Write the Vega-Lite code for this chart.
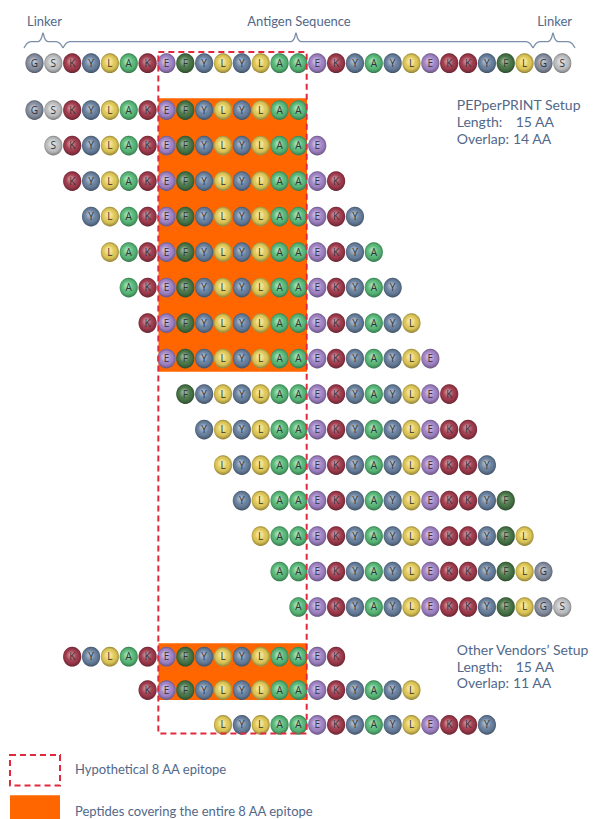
{
  "$schema": "https://vega.github.io/schema/vega-lite/v6.json",
  "width": 594,
  "height": 819,
  "autosize": {"type": "fit", "contains": "padding"},
  "padding": 0,
  "background": "white",
  "config": {"view": {"stroke": null}},
  "datasets": {
    "res": [
      {"x":0,"y":-0.32,"a":"G"},{"x":1,"y":-0.32,"a":"S"},{"x":2,"y":-0.32,"a":"K"},{"x":3,"y":-0.32,"a":"Y"},{"x":4,"y":-0.32,"a":"L"},{"x":5,"y":-0.32,"a":"A"},{"x":6,"y":-0.32,"a":"K"},{"x":7,"y":-0.32,"a":"E"},{"x":8,"y":-0.32,"a":"F"},{"x":9,"y":-0.32,"a":"Y"},{"x":10,"y":-0.32,"a":"L"},{"x":11,"y":-0.32,"a":"Y"},{"x":12,"y":-0.32,"a":"L"},{"x":13,"y":-0.32,"a":"A"},{"x":14,"y":-0.32,"a":"A"},{"x":15,"y":-0.32,"a":"E"},{"x":16,"y":-0.32,"a":"K"},{"x":17,"y":-0.32,"a":"Y"},{"x":18,"y":-0.32,"a":"A"},{"x":19,"y":-0.32,"a":"Y"},{"x":20,"y":-0.32,"a":"L"},{"x":21,"y":-0.32,"a":"E"},{"x":22,"y":-0.32,"a":"K"},{"x":23,"y":-0.32,"a":"K"},{"x":24,"y":-0.32,"a":"Y"},{"x":25,"y":-0.32,"a":"F"},{"x":26,"y":-0.32,"a":"L"},{"x":27,"y":-0.32,"a":"G"},{"x":28,"y":-0.32,"a":"S"},
      {"x":0,"y":1,"a":"G"},{"x":1,"y":1,"a":"S"},{"x":2,"y":1,"a":"K"},{"x":3,"y":1,"a":"Y"},{"x":4,"y":1,"a":"L"},{"x":5,"y":1,"a":"A"},{"x":6,"y":1,"a":"K"},{"x":7,"y":1,"a":"E"},{"x":8,"y":1,"a":"F"},{"x":9,"y":1,"a":"Y"},{"x":10,"y":1,"a":"L"},{"x":11,"y":1,"a":"Y"},{"x":12,"y":1,"a":"L"},{"x":13,"y":1,"a":"A"},{"x":14,"y":1,"a":"A"},
      {"x":1,"y":2,"a":"S"},{"x":2,"y":2,"a":"K"},{"x":3,"y":2,"a":"Y"},{"x":4,"y":2,"a":"L"},{"x":5,"y":2,"a":"A"},{"x":6,"y":2,"a":"K"},{"x":7,"y":2,"a":"E"},{"x":8,"y":2,"a":"F"},{"x":9,"y":2,"a":"Y"},{"x":10,"y":2,"a":"L"},{"x":11,"y":2,"a":"Y"},{"x":12,"y":2,"a":"L"},{"x":13,"y":2,"a":"A"},{"x":14,"y":2,"a":"A"},{"x":15,"y":2,"a":"E"},
      {"x":2,"y":3,"a":"K"},{"x":3,"y":3,"a":"Y"},{"x":4,"y":3,"a":"L"},{"x":5,"y":3,"a":"A"},{"x":6,"y":3,"a":"K"},{"x":7,"y":3,"a":"E"},{"x":8,"y":3,"a":"F"},{"x":9,"y":3,"a":"Y"},{"x":10,"y":3,"a":"L"},{"x":11,"y":3,"a":"Y"},{"x":12,"y":3,"a":"L"},{"x":13,"y":3,"a":"A"},{"x":14,"y":3,"a":"A"},{"x":15,"y":3,"a":"E"},{"x":16,"y":3,"a":"K"},
      {"x":3,"y":4,"a":"Y"},{"x":4,"y":4,"a":"L"},{"x":5,"y":4,"a":"A"},{"x":6,"y":4,"a":"K"},{"x":7,"y":4,"a":"E"},{"x":8,"y":4,"a":"F"},{"x":9,"y":4,"a":"Y"},{"x":10,"y":4,"a":"L"},{"x":11,"y":4,"a":"Y"},{"x":12,"y":4,"a":"L"},{"x":13,"y":4,"a":"A"},{"x":14,"y":4,"a":"A"},{"x":15,"y":4,"a":"E"},{"x":16,"y":4,"a":"K"},{"x":17,"y":4,"a":"Y"},
      {"x":4,"y":5,"a":"L"},{"x":5,"y":5,"a":"A"},{"x":6,"y":5,"a":"K"},{"x":7,"y":5,"a":"E"},{"x":8,"y":5,"a":"F"},{"x":9,"y":5,"a":"Y"},{"x":10,"y":5,"a":"L"},{"x":11,"y":5,"a":"Y"},{"x":12,"y":5,"a":"L"},{"x":13,"y":5,"a":"A"},{"x":14,"y":5,"a":"A"},{"x":15,"y":5,"a":"E"},{"x":16,"y":5,"a":"K"},{"x":17,"y":5,"a":"Y"},{"x":18,"y":5,"a":"A"},
      {"x":5,"y":6,"a":"A"},{"x":6,"y":6,"a":"K"},{"x":7,"y":6,"a":"E"},{"x":8,"y":6,"a":"F"},{"x":9,"y":6,"a":"Y"},{"x":10,"y":6,"a":"L"},{"x":11,"y":6,"a":"Y"},{"x":12,"y":6,"a":"L"},{"x":13,"y":6,"a":"A"},{"x":14,"y":6,"a":"A"},{"x":15,"y":6,"a":"E"},{"x":16,"y":6,"a":"K"},{"x":17,"y":6,"a":"Y"},{"x":18,"y":6,"a":"A"},{"x":19,"y":6,"a":"Y"},
      {"x":6,"y":7,"a":"K"},{"x":7,"y":7,"a":"E"},{"x":8,"y":7,"a":"F"},{"x":9,"y":7,"a":"Y"},{"x":10,"y":7,"a":"L"},{"x":11,"y":7,"a":"Y"},{"x":12,"y":7,"a":"L"},{"x":13,"y":7,"a":"A"},{"x":14,"y":7,"a":"A"},{"x":15,"y":7,"a":"E"},{"x":16,"y":7,"a":"K"},{"x":17,"y":7,"a":"Y"},{"x":18,"y":7,"a":"A"},{"x":19,"y":7,"a":"Y"},{"x":20,"y":7,"a":"L"},
      {"x":7,"y":8,"a":"E"},{"x":8,"y":8,"a":"F"},{"x":9,"y":8,"a":"Y"},{"x":10,"y":8,"a":"L"},{"x":11,"y":8,"a":"Y"},{"x":12,"y":8,"a":"L"},{"x":13,"y":8,"a":"A"},{"x":14,"y":8,"a":"A"},{"x":15,"y":8,"a":"E"},{"x":16,"y":8,"a":"K"},{"x":17,"y":8,"a":"Y"},{"x":18,"y":8,"a":"A"},{"x":19,"y":8,"a":"Y"},{"x":20,"y":8,"a":"L"},{"x":21,"y":8,"a":"E"},
      {"x":8,"y":9,"a":"F"},{"x":9,"y":9,"a":"Y"},{"x":10,"y":9,"a":"L"},{"x":11,"y":9,"a":"Y"},{"x":12,"y":9,"a":"L"},{"x":13,"y":9,"a":"A"},{"x":14,"y":9,"a":"A"},{"x":15,"y":9,"a":"E"},{"x":16,"y":9,"a":"K"},{"x":17,"y":9,"a":"Y"},{"x":18,"y":9,"a":"A"},{"x":19,"y":9,"a":"Y"},{"x":20,"y":9,"a":"L"},{"x":21,"y":9,"a":"E"},{"x":22,"y":9,"a":"K"},
      {"x":9,"y":10,"a":"Y"},{"x":10,"y":10,"a":"L"},{"x":11,"y":10,"a":"Y"},{"x":12,"y":10,"a":"L"},{"x":13,"y":10,"a":"A"},{"x":14,"y":10,"a":"A"},{"x":15,"y":10,"a":"E"},{"x":16,"y":10,"a":"K"},{"x":17,"y":10,"a":"Y"},{"x":18,"y":10,"a":"A"},{"x":19,"y":10,"a":"Y"},{"x":20,"y":10,"a":"L"},{"x":21,"y":10,"a":"E"},{"x":22,"y":10,"a":"K"},{"x":23,"y":10,"a":"K"},
      {"x":10,"y":11,"a":"L"},{"x":11,"y":11,"a":"Y"},{"x":12,"y":11,"a":"L"},{"x":13,"y":11,"a":"A"},{"x":14,"y":11,"a":"A"},{"x":15,"y":11,"a":"E"},{"x":16,"y":11,"a":"K"},{"x":17,"y":11,"a":"Y"},{"x":18,"y":11,"a":"A"},{"x":19,"y":11,"a":"Y"},{"x":20,"y":11,"a":"L"},{"x":21,"y":11,"a":"E"},{"x":22,"y":11,"a":"K"},{"x":23,"y":11,"a":"K"},{"x":24,"y":11,"a":"Y"},
      {"x":11,"y":12,"a":"Y"},{"x":12,"y":12,"a":"L"},{"x":13,"y":12,"a":"A"},{"x":14,"y":12,"a":"A"},{"x":15,"y":12,"a":"E"},{"x":16,"y":12,"a":"K"},{"x":17,"y":12,"a":"Y"},{"x":18,"y":12,"a":"A"},{"x":19,"y":12,"a":"Y"},{"x":20,"y":12,"a":"L"},{"x":21,"y":12,"a":"E"},{"x":22,"y":12,"a":"K"},{"x":23,"y":12,"a":"K"},{"x":24,"y":12,"a":"Y"},{"x":25,"y":12,"a":"F"},
      {"x":12,"y":13,"a":"L"},{"x":13,"y":13,"a":"A"},{"x":14,"y":13,"a":"A"},{"x":15,"y":13,"a":"E"},{"x":16,"y":13,"a":"K"},{"x":17,"y":13,"a":"Y"},{"x":18,"y":13,"a":"A"},{"x":19,"y":13,"a":"Y"},{"x":20,"y":13,"a":"L"},{"x":21,"y":13,"a":"E"},{"x":22,"y":13,"a":"K"},{"x":23,"y":13,"a":"K"},{"x":24,"y":13,"a":"Y"},{"x":25,"y":13,"a":"F"},{"x":26,"y":13,"a":"L"},
      {"x":13,"y":14,"a":"A"},{"x":14,"y":14,"a":"A"},{"x":15,"y":14,"a":"E"},{"x":16,"y":14,"a":"K"},{"x":17,"y":14,"a":"Y"},{"x":18,"y":14,"a":"A"},{"x":19,"y":14,"a":"Y"},{"x":20,"y":14,"a":"L"},{"x":21,"y":14,"a":"E"},{"x":22,"y":14,"a":"K"},{"x":23,"y":14,"a":"K"},{"x":24,"y":14,"a":"Y"},{"x":25,"y":14,"a":"F"},{"x":26,"y":14,"a":"L"},{"x":27,"y":14,"a":"G"},
      {"x":14,"y":15,"a":"A"},{"x":15,"y":15,"a":"E"},{"x":16,"y":15,"a":"K"},{"x":17,"y":15,"a":"Y"},{"x":18,"y":15,"a":"A"},{"x":19,"y":15,"a":"Y"},{"x":20,"y":15,"a":"L"},{"x":21,"y":15,"a":"E"},{"x":22,"y":15,"a":"K"},{"x":23,"y":15,"a":"K"},{"x":24,"y":15,"a":"Y"},{"x":25,"y":15,"a":"F"},{"x":26,"y":15,"a":"L"},{"x":27,"y":15,"a":"G"},{"x":28,"y":15,"a":"S"},
      {"x":2,"y":16.4,"a":"K"},{"x":3,"y":16.4,"a":"Y"},{"x":4,"y":16.4,"a":"L"},{"x":5,"y":16.4,"a":"A"},{"x":6,"y":16.4,"a":"K"},{"x":7,"y":16.4,"a":"E"},{"x":8,"y":16.4,"a":"F"},{"x":9,"y":16.4,"a":"Y"},{"x":10,"y":16.4,"a":"L"},{"x":11,"y":16.4,"a":"Y"},{"x":12,"y":16.4,"a":"L"},{"x":13,"y":16.4,"a":"A"},{"x":14,"y":16.4,"a":"A"},{"x":15,"y":16.4,"a":"E"},{"x":16,"y":16.4,"a":"K"},
      {"x":6,"y":17.34,"a":"K"},{"x":7,"y":17.34,"a":"E"},{"x":8,"y":17.34,"a":"F"},{"x":9,"y":17.34,"a":"Y"},{"x":10,"y":17.34,"a":"L"},{"x":11,"y":17.34,"a":"Y"},{"x":12,"y":17.34,"a":"L"},{"x":13,"y":17.34,"a":"A"},{"x":14,"y":17.34,"a":"A"},{"x":15,"y":17.34,"a":"E"},{"x":16,"y":17.34,"a":"K"},{"x":17,"y":17.34,"a":"Y"},{"x":18,"y":17.34,"a":"A"},{"x":19,"y":17.34,"a":"Y"},{"x":20,"y":17.34,"a":"L"},
      {"x":10,"y":18.32,"a":"L"},{"x":11,"y":18.32,"a":"Y"},{"x":12,"y":18.32,"a":"L"},{"x":13,"y":18.32,"a":"A"},{"x":14,"y":18.32,"a":"A"},{"x":15,"y":18.32,"a":"E"},{"x":16,"y":18.32,"a":"K"},{"x":17,"y":18.32,"a":"Y"},{"x":18,"y":18.32,"a":"A"},{"x":19,"y":18.32,"a":"Y"},{"x":20,"y":18.32,"a":"L"},{"x":21,"y":18.32,"a":"E"},{"x":22,"y":18.32,"a":"K"},{"x":23,"y":18.32,"a":"K"},{"x":24,"y":18.32,"a":"Y"}
    ],
    "braces": [
      {"b":"l","x":-0.557,"y":-0.746},{"b":"l","x":-0.398,"y":-0.873},{"b":"l","x":-0.186,"y":-0.924},{"b":"l","x":0.186,"y":-0.924},{"b":"l","x":0.371,"y":-1.028},{"b":"l","x":0.451,"y":-1.169},{"b":"l","x":0.531,"y":-1.028},{"b":"l","x":0.716,"y":-0.924},{"b":"l","x":1.141,"y":-0.924},{"b":"l","x":1.353,"y":-0.873},{"b":"l","x":1.512,"y":-0.746},
      {"b":"a","x":1.512,"y":-0.746},{"b":"a","x":1.671,"y":-0.873},{"b":"a","x":1.883,"y":-0.924},{"b":"a","x":13.607,"y":-0.924},{"b":"a","x":13.793,"y":-1.028},{"b":"a","x":13.873,"y":-1.169},{"b":"a","x":13.952,"y":-1.028},{"b":"a","x":14.138,"y":-0.924},{"b":"a","x":26.074,"y":-0.924},{"b":"a","x":26.286,"y":-0.873},{"b":"a","x":26.446,"y":-0.746},
      {"b":"r","x":26.446,"y":-0.746},{"b":"r","x":26.605,"y":-0.873},{"b":"r","x":26.817,"y":-0.924},{"b":"r","x":27.241,"y":-0.924},{"b":"r","x":27.427,"y":-1.028},{"b":"r","x":27.507,"y":-1.169},{"b":"r","x":27.586,"y":-1.028},{"b":"r","x":27.772,"y":-0.924},{"b":"r","x":28.302,"y":-0.924},{"b":"r","x":28.515,"y":-0.873},{"b":"r","x":28.674,"y":-0.746}
    ],
    "fills": [
      {"x":6.578,"x2":14.456,"y":0.669,"y2":8.37},
      {"x":6.578,"x2":14.456,"y":16.02,"y2":17.62},
      {"x":-1.3,"x2":1.353,"y":20.3,"y2":20.972}
    ],
    "dashed": [
      {"x":6.57,"x2":14.44,"y":-0.634,"y2":18.56},
      {"x":-1.3,"x2":1.353,"y":19.17,"y2":20.03}
    ],
    "heads": [
      {"x":0.53,"y":-1.487,"t":"Linker"},
      {"x":14.03,"y":-1.487,"t":"Antigen Sequence"},
      {"x":27.59,"y":-1.487,"t":"Linker"}
    ],
    "notes": [
      {"x":22.4,"y":0.887,"t":"PEPperPRINT Setup"},
      {"x":22.4,"y":1.366,"t":"Length:"},
      {"x":25.53,"y":1.366,"t":"15 AA"},
      {"x":22.4,"y":1.845,"t":"Overlap:"},
      {"x":25.38,"y":1.845,"t":"14 AA"},
      {"x":22.4,"y":16.24,"t":"Other Vendors’ Setup"},
      {"x":22.4,"y":16.73,"t":"Length:"},
      {"x":25.53,"y":16.73,"t":"15 AA"},
      {"x":22.4,"y":17.18,"t":"Overlap:"},
      {"x":25.38,"y":17.18,"t":"11 AA"}
    ],
    "legend": [
      {"x":2.15,"y":19.59,"t":"Hypothetical 8 AA epitope"},
      {"x":2.15,"y":20.77,"t":"Peptides covering the entire 8 AA epitope"}
    ]
  },
  "layer": [
    {
      "data": {"name": "fills"},
      "mark": {"type": "rect", "fill": "#ff6600", "stroke": null},
      "encoding": {
        "x": {"field": "x", "type": "quantitative", "scale": {"domain": [-1.83, 29.682], "nice": false, "zero": false}, "axis": null},
        "x2": {"field": "x2"},
        "y": {"field": "y", "type": "quantitative", "scale": {"domain": [-2.099, 20.972], "reverse": true, "nice": false, "zero": false}, "axis": null},
        "y2": {"field": "y2"}
      }
    },
    {
      "data": {"name": "braces"},
      "mark": {"type": "line", "interpolate": "monotone", "color": "#7a8eaa", "strokeWidth": 1.3},
      "encoding": {
        "x": {"field": "x", "type": "quantitative", "scale": {"domain": [-1.83, 29.682], "nice": false, "zero": false}, "axis": null},
        "y": {"field": "y", "type": "quantitative", "scale": {"domain": [-2.099, 20.972], "reverse": true, "nice": false, "zero": false}, "axis": null},
        "detail": {"field": "b", "type": "nominal"}
      }
    },
    {
      "data": {"name": "res"},
      "mark": {"type": "point", "shape": "M -0.92,0 A 0.92,1 0 1,1 0.92,0 A 0.92,1 0 1,1 -0.92,0 Z", "filled": true, "opacity": 1, "size": 390},
      "encoding": {
        "x": {"field": "x", "type": "quantitative", "scale": {"domain": [-1.83, 29.682], "nice": false, "zero": false}, "axis": null},
        "y": {"field": "y", "type": "quantitative", "scale": {"domain": [-2.099, 20.972], "reverse": true, "nice": false, "zero": false}, "axis": null},
        "color": {
          "field": "a", "type": "nominal", "legend": null,
          "scale": {"domain": ["G","S","K","Y","L","A","E","F"], "range": ["#8e97aa","#c9cacc","#a83d50","#6d86a6","#ecd35c","#5cc27e","#a98ad0","#4c7c4b"]}
        }
      }
    },
    {
      "data": {"name": "res"},
      "mark": {
        "type": "point", "shape": "M -0.92,0 A 0.92,1 0 1,1 0.92,0 A 0.92,1 0 1,1 -0.92,0 Z", "filled": true, "opacity": 1, "size": 390,
        "fill": {"gradient": "radial", "x1": 0.42, "y1": 0.38, "r1": 0, "x2": 0.5, "y2": 0.5, "r2": 0.52,
          "stops": [
            {"offset": 0, "color": "rgba(255,255,255,0.55)"},
            {"offset": 0.35, "color": "rgba(255,255,255,0.2)"},
            {"offset": 0.65, "color": "rgba(0,0,0,0.05)"},
            {"offset": 0.85, "color": "rgba(0,0,0,0.25)"},
            {"offset": 1, "color": "rgba(0,0,0,0.45)"}
          ]}
      },
      "encoding": {
        "x": {"field": "x", "type": "quantitative", "scale": {"domain": [-1.83, 29.682], "nice": false, "zero": false}, "axis": null},
        "y": {"field": "y", "type": "quantitative", "scale": {"domain": [-2.099, 20.972], "reverse": true, "nice": false, "zero": false}, "axis": null}
      }
    },
    {
      "data": {"name": "res"},
      "mark": {"type": "text", "font": "Open Sans", "fontSize": 10, "fill": "#333333", "align": "center", "baseline": "middle", "dy": 0.5},
      "encoding": {
        "x": {"field": "x", "type": "quantitative", "scale": {"domain": [-1.83, 29.682], "nice": false, "zero": false}, "axis": null},
        "y": {"field": "y", "type": "quantitative", "scale": {"domain": [-2.099, 20.972], "reverse": true, "nice": false, "zero": false}, "axis": null},
        "text": {"field": "a", "type": "nominal"}
      }
    },
    {
      "data": {"name": "dashed"},
      "mark": {"type": "rect", "fill": null, "fillOpacity": 0, "stroke": "#e2283c", "strokeWidth": 2, "strokeDash": [6, 4]},
      "encoding": {
        "x": {"field": "x", "type": "quantitative", "scale": {"domain": [-1.83, 29.682], "nice": false, "zero": false}, "axis": null},
        "x2": {"field": "x2"},
        "y": {"field": "y", "type": "quantitative", "scale": {"domain": [-2.099, 20.972], "reverse": true, "nice": false, "zero": false}, "axis": null},
        "y2": {"field": "y2"}
      }
    },
    {
      "data": {"name": "heads"},
      "mark": {"type": "text", "font": "Lato", "fontSize": 13, "fill": "#52688a", "align": "center", "baseline": "middle"},
      "encoding": {
        "x": {"field": "x", "type": "quantitative", "scale": {"domain": [-1.83, 29.682], "nice": false, "zero": false}, "axis": null},
        "y": {"field": "y", "type": "quantitative", "scale": {"domain": [-2.099, 20.972], "reverse": true, "nice": false, "zero": false}, "axis": null},
        "text": {"field": "t", "type": "nominal"}
      }
    },
    {
      "data": {"name": "notes"},
      "mark": {"type": "text", "font": "Lato", "fontSize": 14, "fill": "#52688a", "align": "left", "baseline": "middle"},
      "encoding": {
        "x": {"field": "x", "type": "quantitative", "scale": {"domain": [-1.83, 29.682], "nice": false, "zero": false}, "axis": null},
        "y": {"field": "y", "type": "quantitative", "scale": {"domain": [-2.099, 20.972], "reverse": true, "nice": false, "zero": false}, "axis": null},
        "text": {"field": "t", "type": "nominal"}
      }
    },
    {
      "data": {"name": "legend"},
      "mark": {"type": "text", "font": "Lato", "fontSize": 13, "fill": "#52688a", "align": "left", "baseline": "middle"},
      "encoding": {
        "x": {"field": "x", "type": "quantitative", "scale": {"domain": [-1.83, 29.682], "nice": false, "zero": false}, "axis": null},
        "y": {"field": "y", "type": "quantitative", "scale": {"domain": [-2.099, 20.972], "reverse": true, "nice": false, "zero": false}, "axis": null},
        "text": {"field": "t", "type": "nominal"}
      }
    }
  ]
}
